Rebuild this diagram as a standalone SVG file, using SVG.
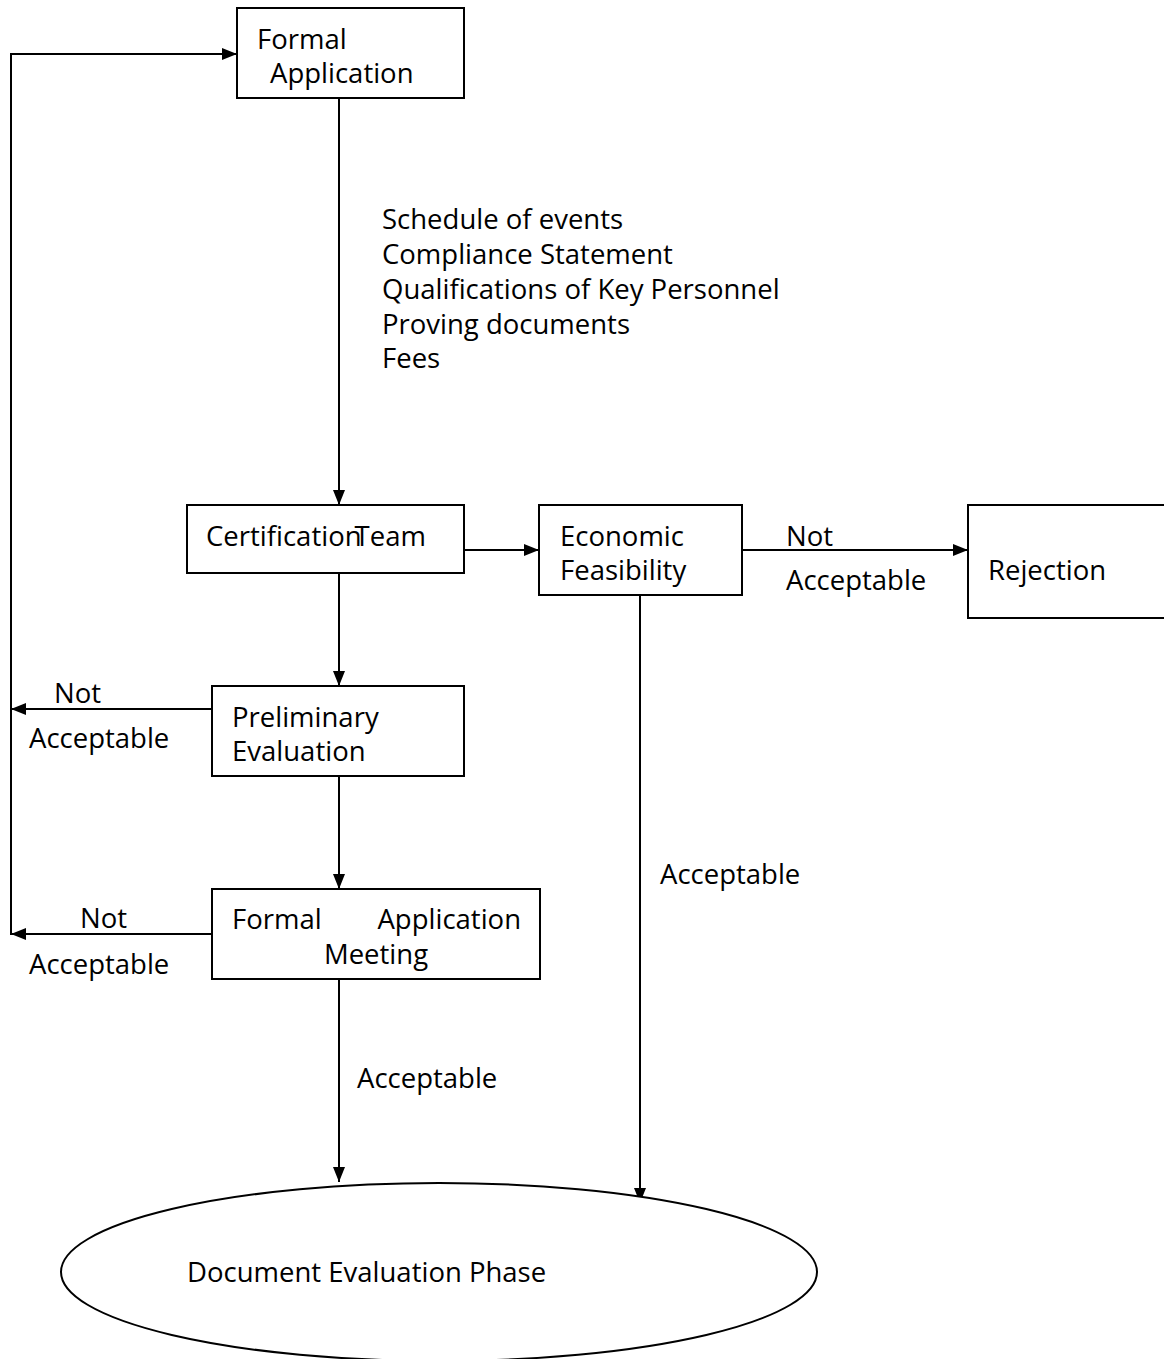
<svg xmlns="http://www.w3.org/2000/svg" width="1164" height="1359" viewBox="0 0 1164 1359">
  <style>
    .box { fill: #fff; stroke: #000; stroke-width: 2; }
    .edge { fill: none; stroke: #000; stroke-width: 2; }
    text { font-family: "Open Sans", "Noto Sans", sans-serif; font-size: 27.5px; fill: #000; }
  </style>
  <defs>
    <marker id="arrow" viewBox="0 0 15 12" refX="15" refY="6" markerWidth="15" markerHeight="12" markerUnits="userSpaceOnUse" orient="auto">
      <path d="M0,0 L15,6 L0,12 Z" fill="#000"/>
    </marker>
  </defs>

  <rect width="1164" height="1359" fill="#fff"/>

  <!-- connectors -->
  <g id="connectors">
    <path class="edge" d="M11,935 L11,54 L237,54" marker-end="url(#arrow)"/>
    <path class="edge" d="M339,98 L339,505" marker-end="url(#arrow)"/>
    <path class="edge" d="M464,550 L539,550" marker-end="url(#arrow)"/>
    <path class="edge" d="M742,550 L968,550" marker-end="url(#arrow)"/>
    <path class="edge" d="M339,573 L339,686" marker-end="url(#arrow)"/>
    <path class="edge" d="M212,709 L11,709" marker-end="url(#arrow)"/>
    <path class="edge" d="M339,776 L339,889" marker-end="url(#arrow)"/>
    <path class="edge" d="M212,934 L11,934" marker-end="url(#arrow)"/>
    <path class="edge" d="M339,979 L339,1182" marker-end="url(#arrow)"/>
    <path class="edge" d="M640,595 L640,1203" marker-end="url(#arrow)"/>

    <g id="edge-labels">
      <text x="382" y="229">Schedule of events</text>
      <text x="382" y="264">Compliance Statement</text>
      <text x="382" y="299">Qualifications of Key Personnel</text>
      <text x="382" y="334">Proving documents</text>
      <text x="382" y="368">Fees</text>

      <text x="786" y="546">Not</text>
      <text x="786" y="590">Acceptable</text>

      <text x="54" y="703">Not</text>
      <text x="29" y="748">Acceptable</text>

      <text x="80" y="928">Not</text>
      <text x="29" y="974">Acceptable</text>

      <text x="357" y="1088">Acceptable</text>
      <text x="660" y="884">Acceptable</text>
    </g>
  </g>

  <!-- nodes -->
  <g id="formal-application">
    <rect class="box" x="237" y="8" width="227" height="90"/>
    <text x="257" y="49">Formal</text>
    <text x="270" y="83">Application</text>
  </g>

  <g id="certification-team">
    <rect class="box" x="187" y="505" width="277" height="68"/>
    <text x="206" y="546">Certification<tspan dx="-7">Team</tspan></text>
  </g>

  <g id="economic-feasibility">
    <rect class="box" x="539" y="505" width="203" height="90"/>
    <text x="560" y="546">Economic</text>
    <text x="560" y="580">Feasibility</text>
  </g>

  <g id="rejection">
    <rect class="box" x="968" y="505" width="200" height="113"/>
    <text x="988" y="580">Rejection</text>
  </g>

  <g id="preliminary-evaluation">
    <rect class="box" x="212" y="686" width="252" height="90"/>
    <text x="232" y="727">Preliminary</text>
    <text x="232" y="761">Evaluation</text>
  </g>

  <g id="formal-application-meeting">
    <rect class="box" x="212" y="889" width="328" height="90"/>
    <text x="232" y="929">Formal</text>
    <text x="521" y="929" text-anchor="end">Application</text>
    <text x="376" y="964" text-anchor="middle">Meeting</text>
  </g>

  <g id="document-evaluation-phase">
    <ellipse class="box" cx="439" cy="1272" rx="378" ry="89"/>
    <text x="187" y="1282">Document Evaluation Phase</text>
  </g>
</svg>
